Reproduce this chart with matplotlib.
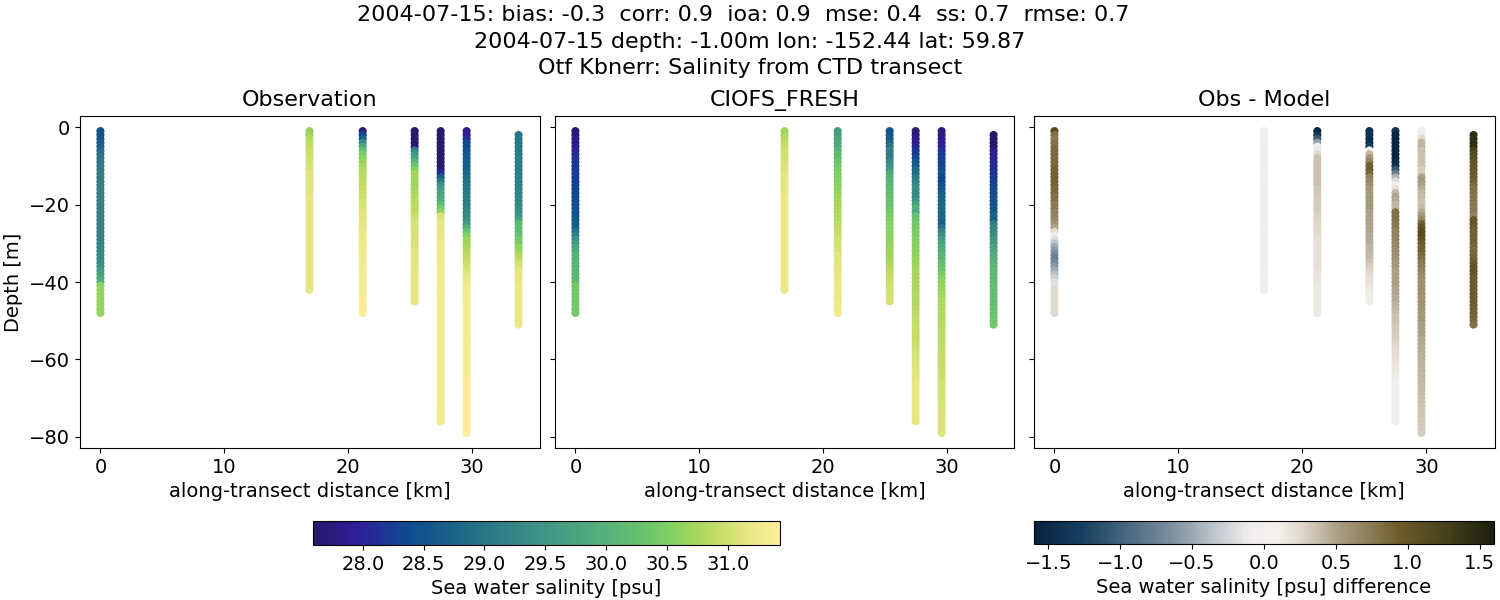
"""
Salinity transect comparison: observation, model and difference panels.
"""

import matplotlib
matplotlib.use('Agg')
import matplotlib.pyplot as plt
import numpy as np
from matplotlib.cm import ScalarMappable
from matplotlib.colors import LinearSegmentedColormap, Normalize

# along-transect distance [km] and first depth [m] of each cast
distance = [0.0, 16.9, 21.2, 25.4, 27.5, 29.6, 33.8]
first_depth = [1, 1, 1, 1, 1, 1, 2]

# observed salinity, one value per metre going down
obs_s0 = [28.45, 28.5, 28.55, 28.65, 28.75, 28.85, 28.95, 29.0, 29.05, 29.1,
          29.1, 29.15, 29.15, 29.15, 29.2, 29.2, 29.2, 29.2, 29.2, 29.2,
          29.2, 29.2, 29.2, 29.2, 29.2, 29.2, 29.2, 29.2, 29.2, 29.25,
          29.25, 29.25, 29.3, 29.3, 29.35, 29.45, 29.6, 29.7, 29.8, 29.95,
          30.6, 30.65, 30.65, 30.65, 30.65, 30.65, 30.65, 30.65]
obs_s1 = [30.65, 30.7, 30.8, 30.85, 30.9, 30.95, 30.95, 31.0, 31.0, 31.05,
          31.05, 31.1, 31.1, 31.1, 31.1, 31.1, 31.1, 31.15, 31.15, 31.15,
          31.15, 31.15, 31.15, 31.15, 31.15, 31.15, 31.15, 31.15, 31.15, 31.15,
          31.15, 31.15, 31.15, 31.15, 31.15, 31.15, 31.15, 31.15, 31.15, 31.15,
          31.15, 31.15]
obs_s2 = [27.65, 28.3, 28.7, 29.3, 29.8, 30.2, 30.45, 30.55, 30.65, 30.75,
          30.8, 30.85, 30.85, 30.9, 30.9, 30.95, 30.95, 31.0, 31.0, 31.05,
          31.05, 31.1, 31.1, 31.1, 31.15, 31.15, 31.2, 31.2, 31.2, 31.25,
          31.25, 31.25, 31.3, 31.3, 31.3, 31.3, 31.3, 31.35, 31.35, 31.35,
          31.35, 31.35, 31.35, 31.35, 31.4, 31.4, 31.4, 31.4]
obs_s3 = [27.05, 27.1, 27.2, 27.3, 27.7, 29.1, 29.5, 29.7, 30.0, 30.3,
          30.5, 30.7, 30.7, 30.7, 30.7, 30.75, 30.75, 30.8, 30.8, 30.85,
          30.85, 30.9, 30.95, 31.0, 31.05, 31.05, 31.05, 31.05, 31.05, 31.05,
          31.05, 31.1, 31.1, 31.1, 31.1, 31.1, 31.15, 31.15, 31.15, 31.15,
          31.15, 31.15, 31.15, 31.15, 31.15]
obs_s4 = [26.25, 26.15, 26.25, 26.35, 26.5, 26.6, 26.7, 26.85, 27.0, 27.15,
          27.7, 28.1, 28.6, 29.0, 29.4, 29.6, 29.7, 29.8, 29.9, 30.1,
          30.4, 30.6, 31.05, 31.1, 31.15, 31.15, 31.15, 31.15, 31.2, 31.2,
          31.2, 31.2, 31.2, 31.2, 31.2, 31.25, 31.25, 31.25, 31.25, 31.25,
          31.25, 31.25, 31.25, 31.25, 31.25, 31.25, 31.25, 31.25, 31.25, 31.25,
          31.25, 31.25, 31.25, 31.25, 31.25, 31.25, 31.25, 31.25, 31.25, 31.25,
          31.25, 31.25, 31.25, 31.25, 31.25, 31.25, 31.25, 31.25, 31.25, 31.25,
          31.25, 31.25, 31.25, 31.25, 31.25, 31.25]
obs_s5 = [27.85, 27.9, 28.1, 28.35, 28.4, 28.45, 28.6, 28.6, 28.65, 28.65,
          28.7, 28.8, 28.85, 28.9, 28.95, 29.0, 29.05, 29.1, 29.1, 29.15,
          29.2, 29.25, 29.3, 29.4, 29.55, 29.95, 30.3, 30.5, 30.65, 30.7,
          30.75, 30.8, 30.85, 30.9, 30.95, 31.0, 31.05, 31.1, 31.15, 31.2,
          31.25, 31.3, 31.3, 31.3, 31.35, 31.35, 31.35, 31.35, 31.35, 31.35,
          31.35, 31.35, 31.35, 31.35, 31.35, 31.35, 31.35, 31.35, 31.35, 31.35,
          31.35, 31.35, 31.35, 31.35, 31.35, 31.4, 31.4, 31.4, 31.4, 31.4,
          31.4, 31.4, 31.4, 31.4, 31.4, 31.4, 31.4, 31.4, 31.4]
obs_s6 = [29.0, 29.0, 29.0, 29.05, 29.05, 29.05, 29.1, 29.1, 29.1, 29.1,
          29.1, 29.15, 29.15, 29.15, 29.2, 29.2, 29.25, 29.25, 29.3, 29.3,
          29.35, 29.45, 29.7, 30.1, 30.2, 30.2, 30.25, 30.4, 30.4, 30.55,
          30.65, 30.75, 30.85, 30.95, 31.05, 31.15, 31.15, 31.15, 31.15, 31.2,
          31.2, 31.2, 31.2, 31.2, 31.2, 31.2, 31.2, 31.2, 31.2, 31.2]

# obs minus model, same layout
diff_s0 = [1.15, 0.8, 0.75, 0.8, 0.8, 0.85, 0.85, 0.85, 0.85, 0.85,
           0.9, 0.9, 0.9, 0.9, 0.9, 0.85, 0.85, 0.8, 0.8, 0.75,
           0.75, 0.7, 0.7, 0.65, 0.6, 0.5, 0.25, 0.05, -0.2, -0.35,
           -0.5, -0.6, -0.7, -0.75, -0.7, -0.6, -0.5, -0.4, -0.3, -0.2,
           0.2, 0.25, 0.25, 0.25, 0.25, 0.25, 0.25, 0.25]
diff_s1 = [-0.03, -0.03, -0.03, -0.03, -0.03, -0.03, -0.03, -0.03, -0.03, -0.03,
           -0.03, -0.03, -0.03, -0.03, -0.03, -0.03, -0.03, -0.03, -0.03, -0.03,
           -0.03, -0.03, -0.03, -0.03, -0.03, -0.03, -0.03, -0.03, -0.03, -0.03,
           -0.03, -0.03, -0.03, -0.03, -0.03, -0.03, -0.03, -0.03, -0.03, -0.03,
           -0.03, -0.03]
diff_s2 = [-1.95, -1.4, -1.05, -0.55, -0.05, 0.15, 0.25, 0.35, 0.35, 0.35,
           0.35, 0.35, 0.35, 0.35, 0.35, 0.33, 0.33, 0.32, 0.3, 0.3,
           0.3, 0.3, 0.28, 0.28, 0.25, 0.25, 0.25, 0.25, 0.22, 0.22,
           0.22, 0.2, 0.2, 0.2, 0.2, 0.2, 0.18, 0.18, 0.18, 0.18,
           0.15, 0.15, 0.15, 0.15, 0.15, 0.15, 0.15, 0.15]
diff_s3 = [-1.45, -1.45, -1.45, -1.45, -1.3, -0.1, 0.4, 0.55, 0.7, 0.9,
           0.95, 0.85, 0.7, 0.65, 0.6, 0.55, 0.55, 0.55, 0.55, 0.55,
           0.55, 0.5, 0.5, 0.5, 0.5, 0.48, 0.48, 0.45, 0.45, 0.45,
           0.42, 0.42, 0.4, 0.38, 0.35, 0.3, 0.28, 0.25, 0.22, 0.2,
           0.18, 0.15, 0.13, 0.12, 0.12]
diff_s4 = [-1.4, -1.55, -1.55, -1.55, -1.55, -1.55, -1.55, -1.55, -1.5, -1.45,
           -1.1, -0.8, -0.45, -0.2, 0.1, 0.2, 0.4, 0.5, 0.45, 0.4,
           0.4, 0.8, 0.8, 0.8, 0.75, 0.75, 0.7, 0.7, 0.68, 0.65,
           0.65, 0.62, 0.6, 0.58, 0.55, 0.55, 0.52, 0.52, 0.5, 0.5,
           0.5, 0.48, 0.48, 0.45, 0.45, 0.42, 0.4, 0.38, 0.36, 0.35,
           0.34, 0.32, 0.32, 0.3, 0.3, 0.28, 0.26, 0.24, 0.22, 0.2,
           0.18, 0.16, 0.15, 0.13, 0.12, 0.1, 0.1, 0.08, 0.08, 0.08,
           0.08, 0.08, 0.08, 0.08, 0.08, 0.08]
diff_s5 = [0.1, 0.1, 0.25, 0.4, 0.4, 0.35, 0.35, 0.35, 0.35, 0.35,
           0.3, 0.3, 0.5, 0.55, 0.5, 0.45, 0.4, 0.38, 0.36, 0.35,
           0.38, 0.45, 0.55, 0.65, 0.9, 1.0, 1.1, 1.1, 1.05, 0.95,
           0.92, 0.9, 0.85, 0.8, 0.75, 0.72, 0.7, 0.65, 0.62, 0.6,
           0.6, 0.6, 0.6, 0.58, 0.58, 0.58, 0.55, 0.55, 0.55, 0.55,
           0.52, 0.52, 0.5, 0.5, 0.48, 0.48, 0.46, 0.46, 0.44, 0.44,
           0.42, 0.42, 0.42, 0.4, 0.4, 0.4, 0.38, 0.38, 0.38, 0.36,
           0.36, 0.36, 0.34, 0.34, 0.34, 0.32, 0.32, 0.3, 0.3]
diff_s6 = [1.45, 1.45, 1.45, 1.45, 1.25, 1.15, 1.1, 1.05, 1.0, 1.0,
           0.95, 0.95, 0.9, 0.85, 0.8, 0.8, 0.78, 0.78, 0.76, 0.75,
           0.75, 0.7, 1.0, 1.0, 0.95, 0.9, 0.9, 0.9, 0.9, 0.88,
           0.85, 0.85, 0.9, 0.95, 1.0, 1.0, 1.0, 0.95, 0.95, 0.95,
           0.95, 0.95, 0.95, 0.95, 0.95, 0.92, 0.9, 0.88, 0.85, 0.8]

obs_casts = [obs_s0, obs_s1, obs_s2, obs_s3, obs_s4, obs_s5, obs_s6]
diff_casts = [diff_s0, diff_s1, diff_s2, diff_s3, diff_s4, diff_s5, diff_s6]

title_lines = [
    '2004-07-15: bias: -0.3  corr: 0.9  ioa: 0.9  mse: 0.4  ss: 0.7  rmse: 0.7  ',
    '2004-07-15 depth: -1.00m lon: -152.44 lat: 59.87',
    'Otf Kbnerr: Salinity from CTD transect',
]

# stand-ins for the cmocean haline and diff maps
haline = LinearSegmentedColormap.from_list('haline', [
    (0.0, '#29186b'), (0.1, '#2e1f9a'), (0.2, '#0f4a90'), (0.3, '#1a6488'),
    (0.4, '#317d86'), (0.5, '#3f9685'), (0.6, '#50ac7d'), (0.7, '#66c06f'),
    (0.76, '#7dd064'), (0.82, '#a6d65b'), (0.88, '#cbdf6a'), (0.94, '#ece888'),
    (1.0, '#fdee99')])
diff_map = LinearSegmentedColormap.from_list('diff_map', [
    (0.0, '#07223f'), (0.1, '#153f60'), (0.3, '#7d8f9e'), (0.4, '#c4cad0'),
    (0.47, '#f0eeee'), (0.53, '#f3efeb'), (0.58, '#e0d9ce'), (0.66, '#ab9f85'),
    (0.8, '#6b5a28'), (0.9, '#45401c'), (1.0, '#1c1f0c')])

plt.rcParams['font.size'] = 14

W, H = 1500, 600


def px_axes(fig, left, right, top, bottom):
    # axes from pixel edges of the finished picture
    return fig.add_axes([left / W, 1 - bottom / H, (right - left) / W, (bottom - top) / H])


def draw_panel(ax, series, title, cmap, norm):
    for x0, start, vals in zip(distance, first_depth, series):
        depth = -(start + np.arange(len(vals)))
        ax.scatter(np.full(len(vals), x0), depth, c=vals, s=34, cmap=cmap, norm=norm,
                   linewidths=0)
    ax.set_title(title, fontsize=16, pad=7)
    ax.set_xlabel('along-transect distance [km]')
    ax.set_xticks([0, 10, 20, 30])
    ax.set_yticks([0, -20, -40, -60, -80])
    ax.set_xlim(-1.69, 35.49)
    ax.set_ylim(-82.9, 2.9)


fig = plt.figure(figsize=(15, 6), dpi=100)
ax_obs = px_axes(fig, 79.5, 539.5, 116, 448)
ax_mod = px_axes(fig, 554.5, 1014.5, 116, 448)
ax_dif = px_axes(fig, 1033.5, 1494.5, 116, 448)

norm_sal = Normalize(27.59, 31.43)
norm_dif = Normalize(-1.6, 1.6)

model_casts = [np.array(o) - np.array(d) for o, d in zip(obs_casts, diff_casts)]

draw_panel(ax_obs, obs_casts, 'Observation', haline, norm_sal)
draw_panel(ax_mod, model_casts, 'CIOFS_FRESH', haline, norm_sal)
draw_panel(ax_dif, diff_casts, 'Obs - Model', diff_map, norm_dif)

ax_obs.set_ylabel('Depth [m]')
ax_mod.tick_params(labelleft=False)
ax_dif.tick_params(labelleft=False)

fig.text(0.5, 1 - 41.5 / H, '\n'.join(title_lines), fontsize=16, ha='center', va='center',
         linespacing=1.4)

cax1 = px_axes(fig, 313, 780, 521, 545)
cb1 = fig.colorbar(ScalarMappable(norm_sal, haline), cax=cax1, orientation='horizontal')
cb1.set_ticks([28.0, 28.5, 29.0, 29.5, 30.0, 30.5, 31.0])
cb1.set_label('Sea water salinity [psu]')

cax2 = px_axes(fig, 1034, 1494, 521, 544)
cb2 = fig.colorbar(ScalarMappable(norm_dif, diff_map), cax=cax2, orientation='horizontal')
cb2.set_ticks([-1.5, -1.0, -0.5, 0.0, 0.5, 1.0, 1.5])
cb2.set_label('Sea water salinity [psu] difference')

fig.savefig('out.png', dpi=100)
